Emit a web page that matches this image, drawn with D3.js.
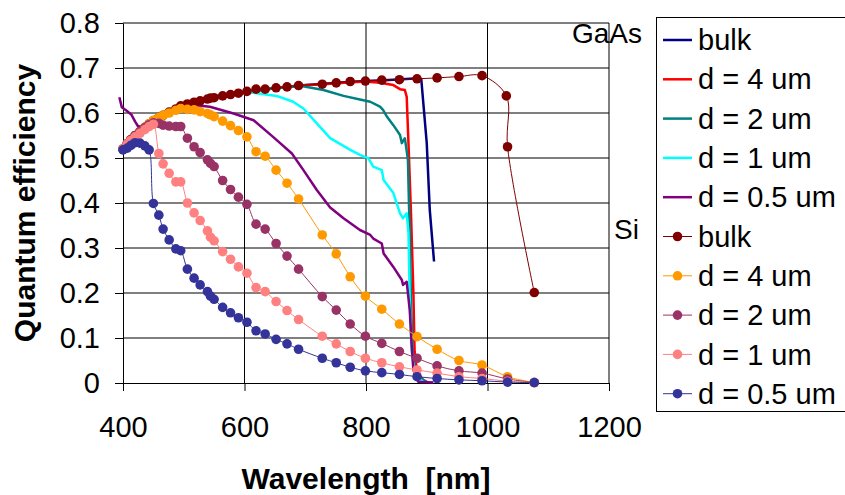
<!DOCTYPE html>
<html>
<head>
<meta charset="utf-8">
<script src="https://cdn.jsdelivr.net/npm/d3@7"></script>
<style>
  body { margin: 0; background: #fff; }
  svg { display: block; font-family: "Liberation Sans", Arial, sans-serif; }
</style>
</head>
<body>
<svg id="chart" width="845" height="495"></svg>
<script>
// ---------------------------------------------------------------------------
// Data

const xTicks = [400, 600, 800, 1000, 1200];
const yTicks = [0, 0.1, 0.2, 0.3, 0.4, 0.5, 0.6, 0.7, 0.8];
const yTickLabels = ['0', '0.1', '0.2', '0.3', '0.4', '0.5', '0.6', '0.7', '0.8'];

// GaAs, plain lines
const gaasBulkWave = [450, 480, 500, 520, 550, 580, 600, 620, 650, 690, 730, 770, 800, 830, 860, 885, 891, 900, 905, 912];
const gaasBulk = [0.58, 0.60, 0.613, 0.623, 0.633, 0.640, 0.646, 0.650, 0.655, 0.661, 0.665, 0.669, 0.671, 0.673, 0.675, 0.677, 0.675, 0.533, 0.384, 0.27];

const gaas4Wave = [450, 480, 500, 520, 550, 580, 600, 620, 650, 690, 730, 770, 800, 823, 845, 856, 864, 867, 870, 874, 878, 880, 884, 895];
const gaas4 = [0.58, 0.60, 0.613, 0.623, 0.633, 0.640, 0.646, 0.650, 0.655, 0.661, 0.664, 0.668, 0.670, 0.667, 0.662, 0.653, 0.651, 0.636, 0.53, 0.38, 0.20, 0.07, 0.025, 0.005];

const gaas2Wave = [450, 480, 500, 520, 550, 580, 600, 620, 650, 694, 730, 763, 790, 807, 823, 828, 834, 845, 856, 859, 864, 869, 871, 872, 874, 877, 883, 900];
const gaas2 = [0.58, 0.60, 0.613, 0.623, 0.633, 0.640, 0.646, 0.650, 0.655, 0.660, 0.651, 0.638, 0.630, 0.625, 0.614, 0.607, 0.593, 0.573, 0.551, 0.533, 0.544, 0.496, 0.384, 0.333, 0.184, 0.058, 0.014, 0.003];

const gaas1Wave = [450, 480, 500, 520, 550, 580, 603, 620, 653, 680, 697, 719, 741, 774, 790, 804, 812, 826, 829, 845, 856, 861, 867, 870, 872, 875, 881, 894];
const gaas1 = [0.58, 0.60, 0.613, 0.623, 0.633, 0.640, 0.647, 0.644, 0.638, 0.625, 0.610, 0.577, 0.544, 0.518, 0.507, 0.499, 0.481, 0.473, 0.451, 0.422, 0.377, 0.366, 0.377, 0.333, 0.184, 0.073, 0.014, 0.003];

const gaas05Wave = [394, 398, 406, 414, 420, 425, 440, 460, 480, 500, 516, 543, 582, 615, 647, 678, 697, 719, 741, 763, 790, 807, 812, 826, 829, 845, 859, 861, 867, 872, 875, 878, 886, 911];
const gaas05 = [0.635, 0.613, 0.605, 0.596, 0.581, 0.570, 0.572, 0.585, 0.600, 0.612, 0.618, 0.614, 0.599, 0.584, 0.547, 0.510, 0.473, 0.429, 0.39, 0.366, 0.340, 0.329, 0.321, 0.310, 0.288, 0.258, 0.229, 0.218, 0.225, 0.162, 0.088, 0.029, 0.003, 0.001];

// Si, lines with markers
const siWave = [400, 407, 413, 420, 428, 436, 443, 450, 459, 466, 476, 487, 495, 506, 517, 527, 539, 544, 550, 564,
  577, 590, 604, 619, 634, 652, 670, 689, 728, 751, 774, 799, 826, 855, 884, 917, 953, 991, 1033, 1077];

const siBulkWave = [400, 407, 413, 420, 428, 436, 443, 450, 459, 466, 476, 487, 495, 506, 517, 527, 539, 544, 550, 564,
  577, 590, 604, 619, 634, 652, 670, 689, 728, 751, 774, 799, 826, 855, 884, 917, 953, 991, 1031, 1033, 1077];
const siBulk = [0.520, 0.532, 0.541, 0.550, 0.559, 0.568, 0.576, 0.583, 0.590, 0.595, 0.602, 0.609, 0.616, 0.620, 0.624, 0.627, 0.631, 0.633, 0.634, 0.638,
  0.641, 0.644, 0.648, 0.653, 0.653, 0.656, 0.658, 0.661, 0.664, 0.667, 0.670, 0.671, 0.673, 0.674, 0.676, 0.678, 0.681, 0.683, 0.638, 0.525, 0.201];

const si4 = [0.520, 0.532, 0.541, 0.550, 0.559, 0.568, 0.576, 0.583, 0.590, 0.595, 0.600, 0.606, 0.610, 0.608, 0.607, 0.603, 0.599, 0.596, 0.592, 0.582,
  0.572, 0.561, 0.547, 0.514, 0.504, 0.473, 0.444, 0.409, 0.329, 0.287, 0.236, 0.193, 0.164, 0.131, 0.103, 0.075, 0.050, 0.040, 0.014, 0.001];

const si2 = [0.520, 0.532, 0.541, 0.550, 0.559, 0.567, 0.574, 0.578, 0.577, 0.573, 0.571, 0.570, 0.570, 0.544, 0.525, 0.512, 0.496, 0.488, 0.481, 0.450,
  0.430, 0.413, 0.397, 0.353, 0.342, 0.310, 0.282, 0.253, 0.192, 0.162, 0.131, 0.104, 0.088, 0.070, 0.055, 0.038, 0.027, 0.022, 0.009, 0.001];

const si1 = [0.520, 0.531, 0.539, 0.547, 0.555, 0.563, 0.570, 0.575, 0.510, 0.487, 0.466, 0.447, 0.447, 0.400, 0.378, 0.361, 0.338, 0.324, 0.316, 0.292,
  0.275, 0.258, 0.244, 0.212, 0.203, 0.181, 0.161, 0.141, 0.104, 0.087, 0.070, 0.055, 0.045, 0.036, 0.029, 0.022, 0.014, 0.010, 0.004, 0.001];

const si05 = [0.518, 0.522, 0.528, 0.534, 0.533, 0.527, 0.518, 0.399, 0.373, 0.342, 0.318, 0.298, 0.294, 0.253, 0.233, 0.218, 0.203, 0.193, 0.186, 0.168,
  0.156, 0.145, 0.135, 0.116, 0.109, 0.097, 0.087, 0.075, 0.055, 0.045, 0.035, 0.027, 0.023, 0.019, 0.014, 0.010, 0.007, 0.005, 0.002, 0.001];

const seriesNames = ['bulk', 'd = 4 um', 'd = 2 um', 'd = 1 um', 'd = 0.5 um',
  'bulk', 'd = 4 um', 'd = 2 um', 'd = 1 um', 'd = 0.5 um'];

// ---------------------------------------------------------------------------
// Series table (draw order = legend order)

const series = [
  { wave: gaasBulkWave, vals: gaasBulk, color: '#000080', marker: false },
  { wave: gaas4Wave, vals: gaas4, color: '#ff0000', marker: false },
  { wave: gaas2Wave, vals: gaas2, color: '#008080', marker: false },
  { wave: gaas1Wave, vals: gaas1, color: '#00ffff', marker: false },
  { wave: gaas05Wave, vals: gaas05, color: '#800080', marker: false },
  { wave: siBulkWave, vals: siBulk, color: '#800000', marker: true },
  { wave: siWave, vals: si4, color: '#ff9900', marker: true },
  { wave: siWave, vals: si2, color: '#993366', marker: true },
  { wave: siWave, vals: si1, color: '#ff8080', marker: true },
  { wave: siWave, vals: si05, color: '#333399', marker: true }
].map((s, i) => {
  s.name = seriesNames[i];
  s.points = s.wave.map((w, j) => ({ x: w, y: s.vals[j] }));
  return s;
});

// ---------------------------------------------------------------------------
// Layout

const svg = d3.select('#chart');
const plot = { left: 123, right: 609, top: 23, bottom: 383 };

const x = d3.scaleLinear().domain([400, 1200]).range([plot.left, plot.right]);
const y = d3.scaleLinear().domain([0, 0.8]).range([plot.bottom, plot.top]);

// grid lines
const grid = svg.append('g').attr('class', 'grid');
grid.selectAll('.hgrid')
  .data(yTicks.slice(1))
  .enter()
  .append('line')
  .attr('x1', plot.left)
  .attr('x2', plot.right)
  .attr('y1', d => y(d))
  .attr('y2', d => y(d))
  .attr('stroke', '#000')
  .attr('stroke-width', 1);
grid.selectAll('.vgrid')
  .data(xTicks.slice(1))
  .enter()
  .append('line')
  .attr('y1', plot.top)
  .attr('y2', plot.bottom)
  .attr('x1', d => x(d))
  .attr('x2', d => x(d))
  .attr('stroke', '#000')
  .attr('stroke-width', 1);

// axes
const yAxis = svg.append('g')
  .attr('transform', `translate(${plot.left},0)`)
  .call(d3.axisLeft(y)
    .tickValues(yTicks)
    .tickFormat((d, i) => yTickLabels[i])
    .tickSize(8)
    .tickSizeOuter(0)
    .tickPadding(15));

const xAxis = svg.append('g')
  .attr('transform', `translate(0,${plot.bottom})`)
  .call(d3.axisBottom(x)
    .tickValues(xTicks)
    .tickFormat(d3.format('d'))
    .tickSize(8)
    .tickSizeOuter(0)
    .tickPadding(25));

[yAxis, xAxis].forEach(axis => {
  axis.selectAll('path, line').attr('stroke', '#000').attr('stroke-width', 1);
  axis.selectAll('text')
    .attr('fill', '#000')
    .style('font-size', '29px')
    .style('font-family', '"Liberation Sans", Arial, sans-serif');
});

// ---------------------------------------------------------------------------
// Series

const gaasLine = d3.line().x(d => x(d.x)).y(d => y(d.y));
const siLine = d3.line().x(d => x(d.x)).y(d => y(d.y)).curve(d3.curveCatmullRom.alpha(0.5));

series.forEach(s => {
  const g = svg.append('g');
  g.append('path')
    .datum(s.points)
    .attr('fill', 'none')
    .attr('stroke', s.color)
    .attr('stroke-width', s.marker ? 1 : 2.5)
    .attr('stroke-linejoin', 'round')
    .attr('d', s.marker ? siLine : gaasLine);
  if (s.marker) {
    g.selectAll('circle')
      .data(s.points)
      .enter()
      .append('circle')
      .attr('cx', d => x(d.x))
      .attr('cy', d => y(d.y))
      .attr('r', 4.8)
      .attr('fill', s.color);
  }
});

// ---------------------------------------------------------------------------
// Labels

svg.append('text')
  .attr('x', 366)
  .attr('y', 489)
  .attr('text-anchor', 'middle')
  .attr('xml:space', 'preserve')
  .style('font-size', '30px')
  .style('font-weight', 'bold')
  .text('Wavelength  [nm]');

svg.append('text')
  .attr('transform', 'translate(35,203) rotate(-90)')
  .attr('text-anchor', 'middle')
  .style('font-size', '30px')
  .style('font-weight', 'bold')
  .text('Quantum efficiency');

svg.append('text')
  .attr('x', 572)
  .attr('y', 43)
  .style('font-size', '28px')
  .text('GaAs');

svg.append('text')
  .attr('x', 614)
  .attr('y', 239)
  .style('font-size', '28px')
  .text('Si');

// ---------------------------------------------------------------------------
// Legend

const legend = svg.append('g');
legend.append('rect')
  .attr('x', 656.5)
  .attr('y', 17.5)
  .attr('width', 200)
  .attr('height', 394)
  .attr('fill', '#fff')
  .attr('stroke', '#000')
  .attr('stroke-width', 1);

const rowY = i => 40 + i * 39.3;
const item = legend.selectAll('.item')
  .data(series)
  .enter()
  .append('g')
  .attr('transform', (d, i) => `translate(0,${rowY(i)})`);

item.append('line')
  .attr('x1', 663)
  .attr('x2', 692)
  .attr('stroke', d => d.color)
  .attr('stroke-width', d => d.marker ? 1 : 2.5);

item.filter(d => d.marker)
  .append('circle')
  .attr('cx', 677.5)
  .attr('r', 4.8)
  .attr('fill', d => d.color);

item.append('text')
  .attr('x', 698)
  .attr('dy', '0.35em')
  .style('font-size', '29px')
  .text(d => d.name);
</script>
</body>
</html>
